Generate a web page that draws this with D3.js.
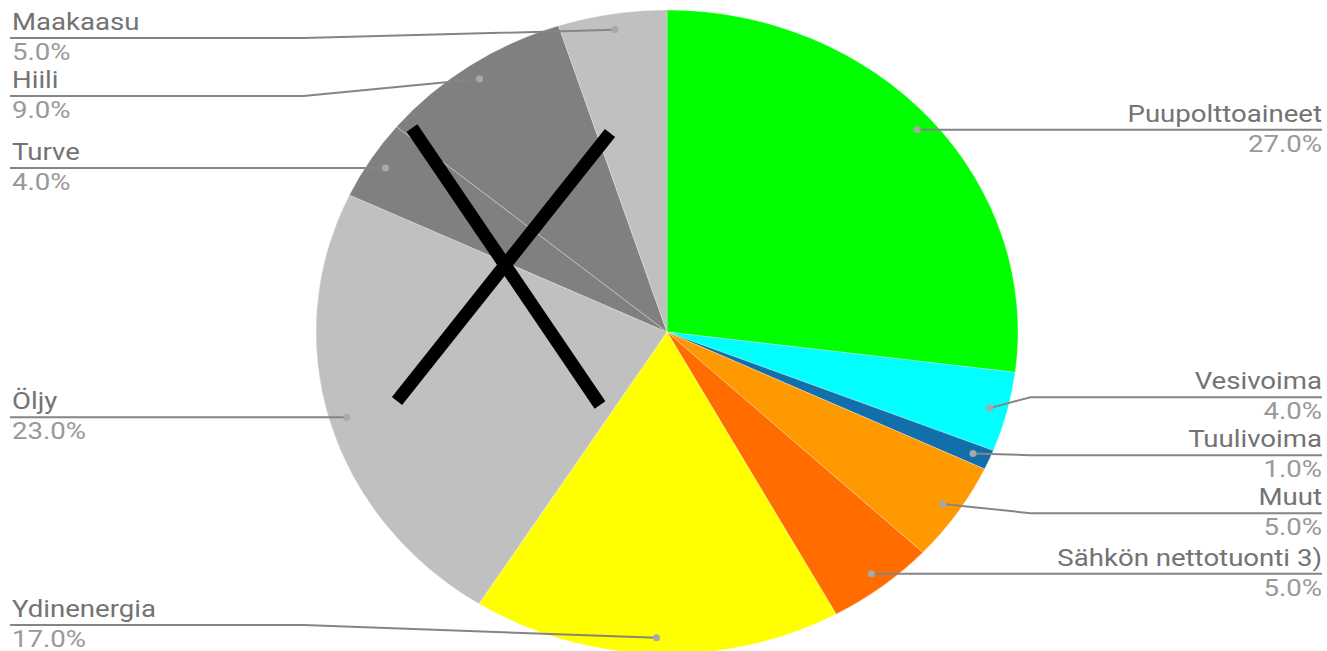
<!DOCTYPE html>
<meta charset="utf-8">
<style>
body { margin: 0; background: #fff; }
.name { fill: #737373; font-family: Roboto, sans-serif; font-size: 23px; }
.pct { fill: #999; font-family: Roboto, sans-serif; font-size: 23px; }
.leader { fill: none; stroke: #858585; stroke-width: 2; }
.dot { fill: #a8a8a8; }
</style>
<body></body>
<script src="https://d3js.org/d3.v7.min.js"></script>
<script>
// energy sources, clockwise from 12 o'clock
var names = ["Puupolttoaineet", "Vesivoima", "Tuulivoima", "Muut", "Sähkön nettotuonti 3)",
             "Ydinenergia", "Öljy", "Turve", "Hiili", "Maakaasu"];
var shares = [27, 4, 1, 5, 5, 17, 23, 4, 9, 5];
var colors = ["#00ff00", "#00ffff", "#1170ab", "#ff9900", "#ff6d00",
              "#ffff00", "#c0c0c0", "#808080", "#808080", "#c0c0c0"];

var width = 1327, height = 651;
var cx = 667, cy = 332, rx = 351, ry = 322;
var textStretch = 1.2;

var svg = d3.select("body").append("svg")
    .attr("width", width)
    .attr("height", height);

var pie = d3.pie().sort(null).value(function(d) { return d; });
var arcs = pie(shares);
var arc = d3.arc().innerRadius(0).outerRadius(ry);

// picture is stretched sideways, so the pie is an ellipse
var g = svg.append("g")
    .attr("transform", "translate(" + cx + "," + cy + ") scale(" + (rx / ry) + ",1)");

g.selectAll("path")
    .data(arcs)
  .enter().append("path")
    .attr("d", arc)
    .attr("fill", function(d, i) { return colors[i]; })
    .attr("stroke", "rgba(255,255,255,0.35)")
    .attr("stroke-width", 0.8);

// dot position for each slice
function dotPos(d) {
  var a = (d.startAngle + d.endAngle) / 2;
  return [cx + 0.95 * rx * Math.sin(a), cy - 0.95 * ry * Math.cos(a)];
}

var items = arcs.map(function(d, i) {
  var p = dotPos(d);
  return { i: i, d: d, dot: p, right: (d.startAngle + d.endAngle) / 2 < Math.PI, y: p[1] };
});

// spread labels on each side so they don't overlap
var gap = 58, minY = 38, maxY = 625;
function layout(list) {
  list.sort(function(a, b) { return a.dot[1] - b.dot[1]; });
  var want = list.map(function(it) { return Math.max(minY, Math.min(maxY, it.dot[1])); });
  var groups = list.map(function(it, k) { return { start: k, n: 1, sum: want[k] }; });
  var changed = true;
  function place(gr) {
    var top = gr.sum / gr.n - (gr.n - 1) * gap / 2;
    top = Math.max(minY, Math.min(maxY - (gr.n - 1) * gap, top));
    gr.top = top;
  }
  groups.forEach(place);
  while (changed) {
    changed = false;
    for (var k = 0; k < groups.length - 1; k++) {
      var a = groups[k], b = groups[k + 1];
      if (a.top + (a.n - 1) * gap + gap > b.top + 0.01) {
        a.n += b.n; a.sum += b.sum;
        groups.splice(k + 1, 1);
        place(a);
        changed = true;
        break;
      }
    }
  }
  groups.forEach(function(gr) {
    for (var j = 0; j < gr.n; j++) list[gr.start + j].y = gr.top + j * gap;
  });
}
layout(items.filter(function(it) { return it.right; }));
layout(items.filter(function(it) { return !it.right; }));

var leftX = 10, rightX = 1322, bend = 12.5;
var line = d3.line();

svg.selectAll(".leader")
    .data(items)
  .enter().append("path")
    .attr("class", "leader")
    .attr("d", function(it) {
      if (it.right) return line([it.dot, [cx + rx + bend, it.y], [rightX, it.y]]);
      return line([[leftX, it.y], [cx - rx - bend, it.y], it.dot]);
    });

svg.selectAll(".dot")
    .data(items)
  .enter().append("circle")
    .attr("class", "dot")
    .attr("cx", function(it) { return it.dot[0]; })
    .attr("cy", function(it) { return it.dot[1]; })
    .attr("r", 3.5);

var fmt = d3.format(".1f");
var lab = svg.selectAll(".lab")
    .data(items)
  .enter().append("g")
    .attr("class", "lab");

lab.append("text")
    .attr("class", "name")
    .attr("text-anchor", function(it) { return it.right ? "end" : "start"; })
    .attr("transform", function(it) {
      return "translate(" + (it.right ? rightX : 12) + "," + (it.y - 8) + ") scale(" + textStretch + ",1)";
    })
    .text(function(it) { return names[it.i]; });

lab.append("text")
    .attr("class", "pct")
    .attr("text-anchor", function(it) { return it.right ? "end" : "start"; })
    .attr("transform", function(it) {
      return "translate(" + (it.right ? rightX : 12) + "," + (it.y + 22) + ") scale(" + textStretch + ",1)";
    })
    .text(function(it) { return fmt(shares[it.i]) + "%"; });

// the big black cross drawn over the grey slices
var cross = [[[412, 128], [600, 405]], [[610, 133], [397, 401]]];
svg.selectAll(".cross")
    .data(cross)
  .enter().append("path")
    .attr("class", "cross")
    .attr("d", function(d) { return line(d); })
    .attr("stroke", "#000")
    .attr("stroke-width", 13);
</script>
